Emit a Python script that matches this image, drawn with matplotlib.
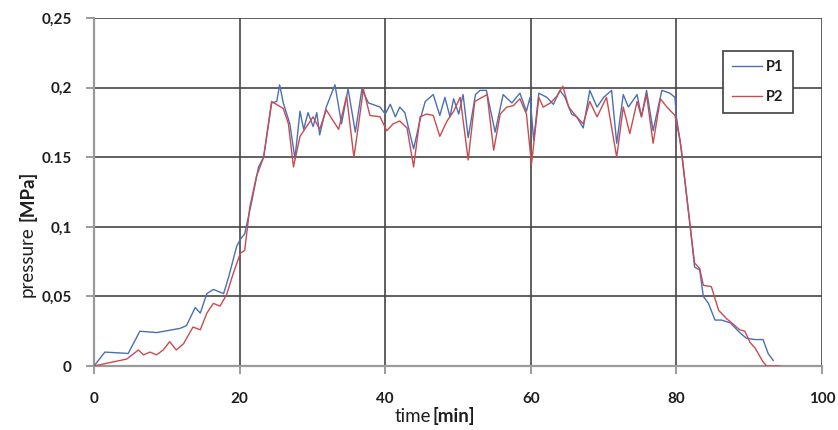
import matplotlib
matplotlib.use("Agg")
import matplotlib.pyplot as plt
from matplotlib.ticker import FixedLocator

# ---- data ----
t1 = [0, 1.5, 4.7, 6.3, 8.6, 11.8, 12.7, 13.9, 14.6, 15.5, 16.4, 17.8, 18.5, 19.6, 20.1,
      20.7, 21.7, 22.6, 23.3, 24.4, 25.1, 25.5, 26.0, 26.9, 27.6, 28.3, 28.8, 29.4, 30.1,
      30.6, 31.0, 31.9, 33.1, 34.0, 34.9, 35.9, 36.8, 37.7, 39.3, 40.0, 40.7, 41.4, 42.0,
      42.7, 43.9, 44.8, 45.5, 46.6, 47.5, 48.2, 48.9, 49.4, 50.1, 50.7, 51.4, 52.4, 53.0,
      53.9, 55.1, 56.2, 57.4, 58.5, 59.4, 59.9, 60.4, 61.1, 62.2, 63.1, 64.0, 64.7, 65.6,
      66.3, 67.2, 68.1, 69.1, 70.0, 71.1, 71.8, 72.7, 73.4, 74.6, 75.2, 75.9, 76.8, 78.0,
      79.1, 79.8, 80.0, 80.7, 81.9, 82.5, 83.2, 83.7, 84.4, 85.3, 86.2, 87.4, 88.7, 89.6,
      90.8, 91.9, 92.6, 93.3]
p1 = [0, 0.010, 0.009, 0.025, 0.024, 0.027, 0.029, 0.042, 0.038, 0.052, 0.055, 0.052,
      0.064, 0.086, 0.091, 0.095, 0.119, 0.143, 0.150, 0.189, 0.190, 0.202, 0.189, 0.174,
      0.149, 0.183, 0.170, 0.182, 0.172, 0.182, 0.166, 0.186, 0.202, 0.174, 0.199, 0.168,
      0.199, 0.189, 0.186, 0.181, 0.188, 0.179, 0.186, 0.182, 0.156, 0.177, 0.190, 0.195,
      0.180, 0.193, 0.179, 0.192, 0.181, 0.195, 0.164, 0.195, 0.198, 0.198, 0.168, 0.195,
      0.189, 0.196, 0.183, 0.193, 0.162, 0.196, 0.193, 0.188, 0.198, 0.193, 0.181, 0.179,
      0.171, 0.198, 0.186, 0.193, 0.198, 0.160, 0.195, 0.186, 0.195, 0.179, 0.198, 0.169,
      0.198, 0.196, 0.193, 0.179, 0.155, 0.100, 0.071, 0.069, 0.050, 0.045, 0.033, 0.033,
      0.031, 0.024, 0.020, 0.019, 0.019, 0.009, 0.004]

t2 = [0, 2.7, 4.5, 6.1, 6.8, 7.7, 8.6, 9.5, 10.4, 11.3, 12.3, 13.6, 14.6, 15.5, 16.4,
      17.3, 18.2, 19.1, 20.1, 20.7, 21.4, 22.3, 23.3, 24.4, 26.0, 26.7, 27.4, 28.3, 29.2,
      30.1, 31.0, 31.9, 33.6, 34.7, 35.7, 36.3, 37.0, 37.9, 39.3, 40.2, 41.1, 42.0, 43.0,
      43.9, 44.8, 45.7, 46.6, 47.5, 48.5, 49.4, 50.3, 51.4, 52.3, 54.0, 54.9, 55.8, 56.7,
      57.6, 58.5, 59.4, 60.1, 61.1, 61.7, 62.7, 63.6, 64.4, 65.2, 66.3, 67.2, 68.1, 69.1,
      70.4, 71.8, 72.7, 73.6, 74.6, 75.2, 75.9, 76.8, 77.8, 78.7, 79.8, 80.5, 81.9, 82.5,
      83.2, 83.7, 84.8, 85.8, 86.9, 88.7, 89.4, 90.1, 90.8, 91.9, 92.4, 94.2]
p2 = [0, 0.003, 0.005, 0.0115, 0.008, 0.010, 0.008, 0.0115, 0.0175, 0.0115, 0.016, 0.028,
      0.026, 0.038, 0.045, 0.043, 0.051, 0.066, 0.081, 0.083, 0.114, 0.136, 0.150, 0.190,
      0.185, 0.174, 0.143, 0.165, 0.172, 0.179, 0.170, 0.184, 0.170, 0.194, 0.150, 0.172,
      0.199, 0.180, 0.179, 0.169, 0.174, 0.176, 0.171, 0.143, 0.179, 0.181, 0.180, 0.165,
      0.176, 0.183, 0.193, 0.148, 0.190, 0.195, 0.155, 0.181, 0.186, 0.187, 0.192, 0.181,
      0.145, 0.193, 0.186, 0.189, 0.194, 0.201, 0.186, 0.179, 0.174, 0.190, 0.179, 0.193,
      0.150, 0.186, 0.167, 0.190, 0.179, 0.195, 0.160, 0.192, 0.186, 0.180, 0.162, 0.100,
      0.074, 0.070, 0.058, 0.057, 0.040, 0.034, 0.026, 0.025, 0.017, 0.013, 0.003, 0.0, 0.0]

x_ticks = [0, 20, 40, 60, 80, 100]
x_tick_labels = ["0", "20", "40", "60", "80", "100"]
y_ticks = [0, 0.05, 0.1, 0.15, 0.2, 0.25]
y_tick_labels = ["0", "0,05", "0,1", "0.15", "0,2", "0,25"]
series_names = ["P1", "P2"]

# ---- figure ----
W, H = 838, 430
fig = plt.figure(figsize=(W / 100, H / 100), dpi=100)
fig.patch.set_facecolor("white")
ax = fig.add_axes([94 / W, 1 - 366 / H, (822 - 94) / W, (366 - 18) / H])

FONT = ["Lato", "DejaVu Sans"]
txtc = "#1e1e1e"

ax.plot(t1, p1, color="#4a6fb5", lw=1.0, label=series_names[0], zorder=3)
ax.plot(t2, p2, color="#c84b50", lw=1.0, label=series_names[1], zorder=3)

ax.set_xlim(0, 100)
ax.set_ylim(0, 0.25)
ax.xaxis.set_major_locator(FixedLocator(x_ticks))
ax.yaxis.set_major_locator(FixedLocator(y_ticks))
ax.set_xticklabels(x_tick_labels, family=FONT, fontweight="bold", fontsize=11, color=txtc)
ax.set_yticklabels(y_tick_labels, family=FONT, fontweight="bold", fontsize=11, color=txtc)

ax.grid(True, color="#464646", lw=1.2)
ax.set_axisbelow(True)
for s in ["top", "right"]:
    ax.spines[s].set_visible(False)
for s in ["left", "bottom"]:
    ax.spines[s].set_color("#9a9a9a")
    ax.spines[s].set_linewidth(1.6)
    ax.spines[s].set_zorder(2.5)
ax.tick_params(axis="x", direction="out", length=6, width=1.2, color="#8a8a8a", pad=13)
ax.tick_params(axis="y", direction="out", length=6, width=1.2, color="#8a8a8a", pad=10)

# ---- axis labels (mixed weight) ----
fig.canvas.draw()
r = fig.canvas.get_renderer()
inv = fig.transFigure.inverted()

# y label: "pressure" normal + "[MPa]" bold, rotated
t_a = fig.text(27 / W, 1 - 297 / H, "pressure", rotation=90, family=FONT, fontsize=13.5,
               color=txtc, ha="center", va="bottom")
bb = t_a.get_window_extent(r)
top = inv.transform((0, bb.y1))[1]
fig.text(27 / W, top + 5 / H, "[MPa]", rotation=90, family=FONT, fontsize=13.5,
         fontweight="bold", color=txtc, ha="center", va="bottom")

# x label: "time" normal + "[min]" bold
t_b = fig.text(395 / W, 1 - 416 / H, "time", family=FONT, fontsize=13.5, color=txtc,
               ha="left", va="center")
bb = t_b.get_window_extent(r)
right = inv.transform((bb.x1, 0))[0]
fig.text(right + 1 / W, 1 - 416 / H, "[min]", family=FONT, fontsize=13.5, fontweight="bold",
         color=txtc, ha="left", va="center")

# ---- legend ----
leg = ax.legend(loc="upper left", bbox_to_anchor=(723 / W, 1 - 51 / H),
                bbox_transform=fig.transFigure, borderaxespad=0, frameon=True,
                fancybox=False, edgecolor="#404040", framealpha=1,
                prop={"family": FONT, "weight": "bold", "size": 10.5},
                handlelength=2.0, handletextpad=0.3, labelspacing=1.05,
                borderpad=0.65)
leg.get_frame().set_linewidth(1.2)
for txt in leg.get_texts():
    txt.set_color(txtc)

fig.savefig("out.png", dpi=100)
